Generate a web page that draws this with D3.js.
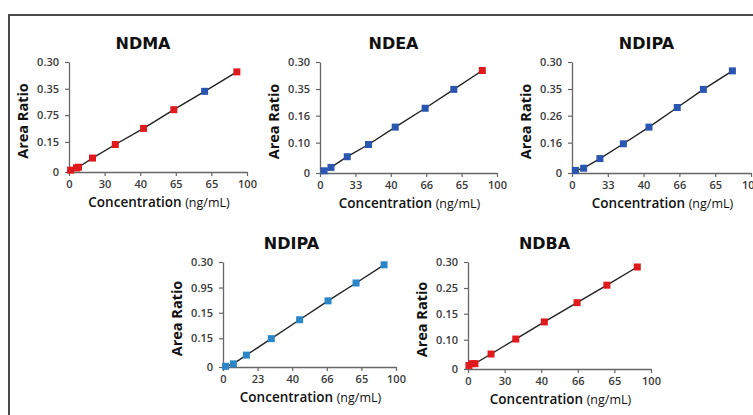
<!DOCTYPE html>
<html>
<head>
<meta charset="utf-8">
<script src="https://cdn.jsdelivr.net/npm/d3@7"></script>
<style>
  body { margin: 0; background: #fff; }
  svg { display: block; }
</style>
</head>
<body>
<svg id="chart" width="753" height="415"></svg>
<script>
// panel titles
const titles = ['NDMA', 'NDEA', 'NDIPA', 'NDIPA', 'NDBA'];

// tick labels as printed on the figure
const xTickLabels = [
  ['0', '30', '40', '65', '65', '100'],
  ['0', '33', '40', '66', '65', '100'],
  ['0', '33', '40', '66', '65', '100'],
  ['0', '23', '40', '66', '65', '100'],
  ['0', '30', '40', '66', '65', '100']
];
const yTickLabels = [
  ['0', '0.15', '0.75', '0.35', '0.30'],
  ['0', '0.10', '0.16', '0.35', '0.30'],
  ['0', '0.16', '0.26', '0.35', '0.30'],
  ['0', '0.15', '0.15', '0.95', '0.30'],
  ['0', '0.10', '0.15', '0.25', '0.30']
];
const xTickValues = [0, 20, 40, 60, 80, 100];
const yTickValues = [0, 0.082, 0.155, 0.227, 0.30];

// concentration (x) and area ratio (y) per panel
const ndmaX = [0.9, 4.2, 5.3, 13.2, 26, 41.9, 58.9, 76.2, 94.3];
const ndmaY = [0.005, 0.011, 0.013, 0.038, 0.075, 0.119, 0.170, 0.220, 0.273];
const ndeaX = [2.3, 6.2, 15.4, 27.4, 42.5, 59.4, 75.6, 91.7];
const ndeaY = [0.006, 0.015, 0.044, 0.077, 0.124, 0.175, 0.226, 0.277];
const ndipaX = [1.9, 6.5, 15.6, 28.7, 43, 58.8, 73.4, 89.6];
const ndipaY = [0.007, 0.013, 0.039, 0.079, 0.124, 0.177, 0.226, 0.276];
const ndipa2X = [1.5, 6, 13.5, 27.9, 44.3, 60.7, 76.9, 93.1];
const ndipa2Y = [0.002, 0.009, 0.034, 0.081, 0.135, 0.189, 0.240, 0.292];
const ndbaX = [0.5, 2.4, 3.8, 12.6, 26.1, 41.7, 59.6, 75.9, 92.5];
const ndbaY = [0.010, 0.015, 0.015, 0.042, 0.084, 0.132, 0.186, 0.235, 0.286];

// marker colour per point
const ndmaC = ['r', 'r', 'r', 'r', 'r', 'r', 'r', 'b', 'r'];
const ndeaC = ['b', 'b', 'b', 'b', 'b', 'b', 'b', 'r'];
const ndipaC = ['b', 'b', 'b', 'b', 'b', 'b', 'b', 'b'];
const ndipa2C = ['l', 'l', 'l', 'l', 'l', 'l', 'l', 'l'];
const ndbaC = ['r', 'r', 'r', 'r', 'r', 'r', 'r', 'r', 'r'];

const colors = { r: '#e0191c', b: '#2a55b0', l: '#2a86c8' };

const xs = [ndmaX, ndeaX, ndipaX, ndipa2X, ndbaX];
const ys = [ndmaY, ndeaY, ndipaY, ndipa2Y, ndbaY];
const cs = [ndmaC, ndeaC, ndipaC, ndipa2C, ndbaC];

// plot boxes: left, right, top, bottom in px
const boxes = [
  { l: 69, r: 247, t: 62, b: 172 },
  { l: 320, r: 497, t: 62, b: 173 },
  { l: 572, r: 751, t: 62, b: 173 },
  { l: 223, r: 396, t: 262, b: 367 },
  { l: 468, r: 651, t: 262, b: 369 }
];

const svg = d3.select('#chart');
const font = "'Open Sans', 'Liberation Sans', sans-serif";

// frame
svg.append('path')
  .attr('d', 'M9,415 V15 H753')
  .attr('fill', 'none')
  .attr('stroke', '#4a4a4a')
  .attr('stroke-width', 2);

titles.forEach((title, i) => {
  const box = boxes[i];
  const g = svg.append('g');

  const xScale = d3.scaleLinear().domain([0, 100]).range([box.l, box.r]);
  const yScale = d3.scaleLinear().domain([0, 0.30]).range([box.b, box.t]);

  const xAxis = g.append('g')
    .attr('transform', `translate(0,${box.b})`)
    .call(d3.axisBottom(xScale)
      .tickValues(xTickValues)
      .tickSize(4)
      .tickSizeOuter(0)
      .tickPadding(4)
      .tickFormat((d, k) => xTickLabels[i][k]));

  const yAxis = g.append('g')
    .attr('transform', `translate(${box.l},0)`)
    .call(d3.axisLeft(yScale)
      .tickValues(yTickValues)
      .tickSize(4)
      .tickSizeOuter(0)
      .tickPadding(6)
      .tickFormat((d, k) => yTickLabels[i][k]));

  [xAxis, yAxis].forEach(ax => {
    ax.select('.domain').attr('stroke', '#666').attr('stroke-width', 1.3);
    ax.selectAll('.tick line').attr('stroke', '#666').attr('stroke-width', 1.2);
    ax.selectAll('text')
      .attr('fill', '#3a3a3a')
      .style('font-family', font)
      .style('font-size', '11px')
      .style('font-weight', 600);
  });

  const pts = xs[i].map((x, k) => ({ x: x, y: ys[i][k], c: cs[i][k] }));

  // fitted line
  g.append('path')
    .datum(pts)
    .attr('fill', 'none')
    .attr('stroke', '#222')
    .attr('stroke-width', 1.4)
    .attr('d', d3.line().x(d => xScale(d.x)).y(d => yScale(d.y)));

  // markers
  const s = 7;
  g.selectAll('rect.pt')
    .data(pts)
    .join('rect')
    .attr('class', 'pt')
    .attr('x', d => xScale(d.x) - s / 2)
    .attr('y', d => yScale(d.y) - s / 2)
    .attr('width', s)
    .attr('height', s)
    .attr('fill', d => colors[d.c]);

  // title
  g.append('text')
    .attr('x', (box.l + box.r) / 2 - 15 + (i == 3 ? -3 : 0))
    .attr('y', box.t - 13)
    .attr('text-anchor', 'middle')
    .style('font-family', "'DejaVu Sans', sans-serif")
    .style('font-weight', 'bold')
    .style('font-size', '16px')
    .attr('fill', '#111')
    .text(title);

  // y axis label
  g.append('text')
    .attr('transform', `translate(${box.l - 41},${(box.t + box.b) / 2 + 4}) rotate(-90)`)
    .attr('text-anchor', 'middle')
    .style('font-family', font)
    .style('font-weight', 700)
    .style('font-size', '14.5px')
    .attr('fill', '#111')
    .text('Area Ratio');

  // x axis label
  const xl = g.append('text')
    .attr('x', (box.l + box.r) / 2 + 1)
    .attr('y', box.b + 35)
    .attr('text-anchor', 'middle')
    .style('font-family', font)
    .attr('fill', '#111');
  xl.append('tspan')
    .style('font-weight', 600)
    .style('font-size', '13.5px')
    .text('Concentration ');
  xl.append('tspan')
    .style('font-weight', 400)
    .style('font-size', '12.5px')
    .text('(ng/mL)');
});
</script>
</body>
</html>
